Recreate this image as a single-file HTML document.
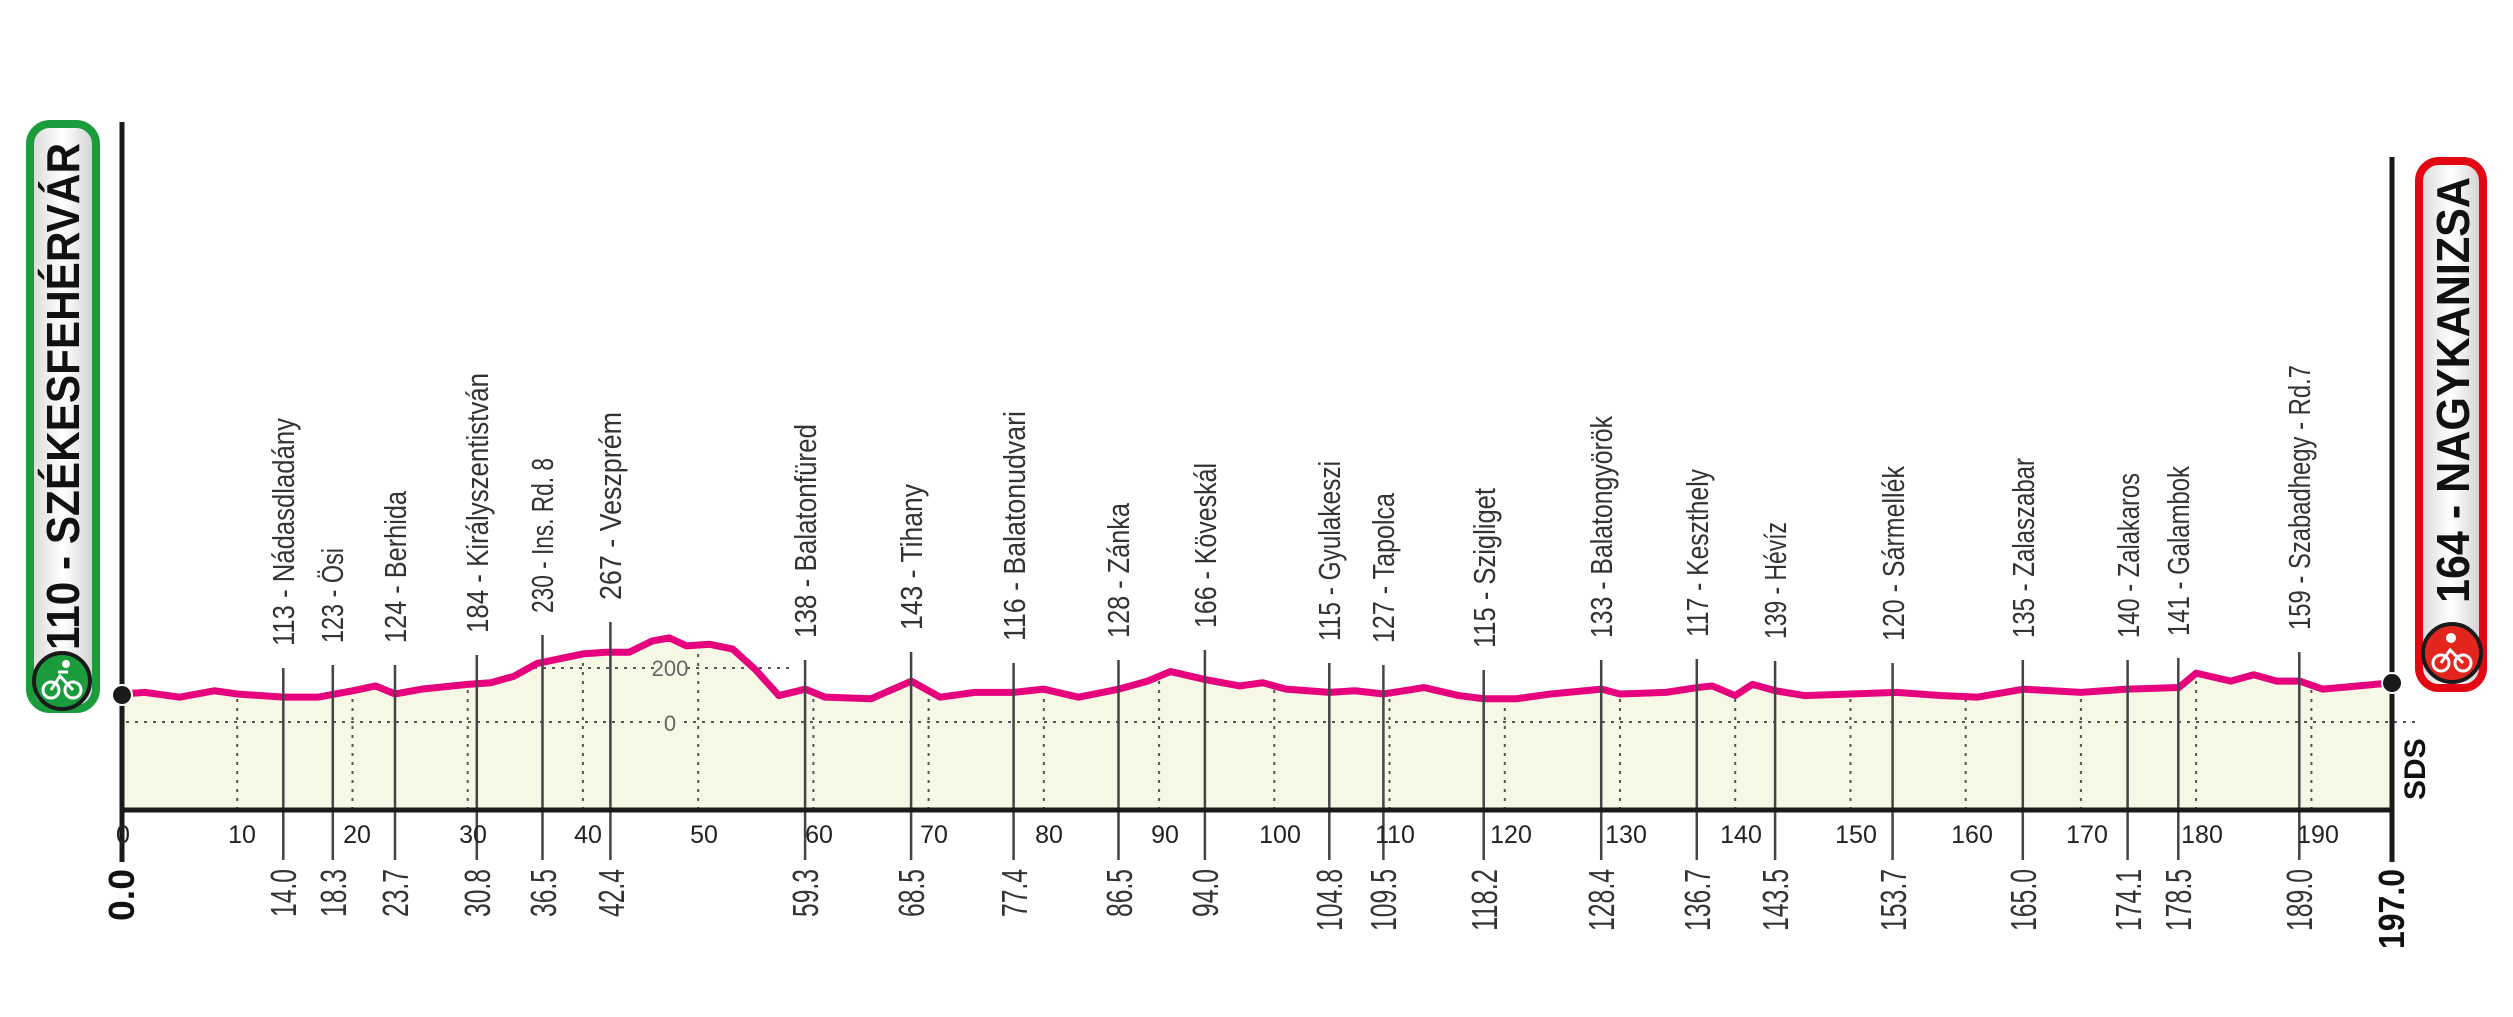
<!DOCTYPE html>
<html><head><meta charset="utf-8"><style>
html,body{margin:0;padding:0;background:#fff;}
svg{display:block;}
text{font-family:"Liberation Sans Narrow","Liberation Sans",sans-serif;}
</style></head><body>
<svg width="2513" height="1017" viewBox="0 0 2513 1017" xmlns="http://www.w3.org/2000/svg">
<defs>
<linearGradient id="gb" x1="0" x2="1" y1="0" y2="0">
<stop offset="0" stop-color="#d8d8d8"/><stop offset="0.5" stop-color="#ffffff"/><stop offset="1" stop-color="#cfcfcf"/>
</linearGradient>
</defs>

<g transform="translate(122,0) scale(11.523,1.6027)">
<polygon fill="#f6f7e4" points="0,505.4 0,433 2,432 5,435 8,431 10,433 14,435 17,435 20,431 22,428 23.7,433 26,430 30,427 32,426 34,422 36,414 38,411 40,408 42,407 44,407 46,400 47.5,398 49,403 51,402 53,405 55,418 57,434 59.3,430 61,435 65,436 68.5,425 71,435 74,432 77.4,432 80,430 83,435 86.5,430 89,425 91,419 94,424 97,428 99,426 101,430 104.8,432 107,431 109.5,433 113,429 116,434 118.2,436 121,436 124,433 128.4,430 130,433 134,432 136.7,429 138,428 140,434 141.5,427 143.5,431 146,434 150,433 154,432 158,434 161,435 165,430 170,432 174,430 178.5,429 180,420 183,425 185,421 187,425 189,425 191,430 194,428 197,426 197,505.4"/>
</g>

<g stroke="#555" stroke-width="2" stroke-dasharray="3,6" fill="none">
<line x1="126" y1="722" x2="2420" y2="722"/>
<line x1="525" y1="668" x2="790" y2="668"/>
<line x1="237.2" y1="810" x2="237.2" y2="694"/>
<line x1="352.5" y1="810" x2="352.5" y2="690"/>
<line x1="467.7" y1="810" x2="467.7" y2="684"/>
<line x1="582.9" y1="810" x2="582.9" y2="655"/>
<line x1="698.2" y1="810" x2="698.2" y2="643"/>
<line x1="813.4" y1="810" x2="813.4" y2="692"/>
<line x1="928.6" y1="810" x2="928.6" y2="693"/>
<line x1="1043.8" y1="810" x2="1043.8" y2="690"/>
<line x1="1159.1" y1="810" x2="1159.1" y2="680"/>
<line x1="1274.3" y1="810" x2="1274.3" y2="687"/>
<line x1="1389.5" y1="810" x2="1389.5" y2="692"/>
<line x1="1504.8" y1="810" x2="1504.8" y2="699"/>
<line x1="1620" y1="810" x2="1620" y2="694"/>
<line x1="1735.2" y1="810" x2="1735.2" y2="695"/>
<line x1="1850.5" y1="810" x2="1850.5" y2="693"/>
<line x1="1965.7" y1="810" x2="1965.7" y2="697"/>
<line x1="2080.9" y1="810" x2="2080.9" y2="692"/>
<line x1="2196.1" y1="810" x2="2196.1" y2="675"/>
<line x1="2311.4" y1="810" x2="2311.4" y2="683"/>
</g>
<rect x="655" y="655" width="32" height="24" fill="#f6f7e4"/>
<text x="670" y="676" font-size="22" fill="#666" text-anchor="middle">200</text>
<rect x="660" y="708" width="20" height="26" fill="#f6f7e4"/>
<text x="670" y="731" font-size="22" fill="#666" text-anchor="middle">0</text>

<g transform="translate(122,0) scale(11.523,1.6027)">
<polyline fill="none" stroke="#e6007e" stroke-width="7" vector-effect="non-scaling-stroke" stroke-linejoin="round" stroke-linecap="round" points="0,433 2,432 5,435 8,431 10,433 14,435 17,435 20,431 22,428 23.7,433 26,430 30,427 32,426 34,422 36,414 38,411 40,408 42,407 44,407 46,400 47.5,398 49,403 51,402 53,405 55,418 57,434 59.3,430 61,435 65,436 68.5,425 71,435 74,432 77.4,432 80,430 83,435 86.5,430 89,425 91,419 94,424 97,428 99,426 101,430 104.8,432 107,431 109.5,433 113,429 116,434 118.2,436 121,436 124,433 128.4,430 130,433 134,432 136.7,429 138,428 140,434 141.5,427 143.5,431 146,434 150,433 154,432 158,434 161,435 165,430 170,432 174,430 178.5,429 180,420 183,425 185,421 187,425 189,425 191,430 194,428 197,426"/>
</g>

<g stroke="#444" stroke-width="2.5">
<line x1="283.3" y1="668" x2="283.3" y2="860"/>
<line x1="332.8" y1="665" x2="332.8" y2="860"/>
<line x1="395" y1="665" x2="395" y2="860"/>
<line x1="476.8" y1="655" x2="476.8" y2="860"/>
<line x1="542.5" y1="635" x2="542.5" y2="860"/>
<line x1="610.4" y1="622" x2="610.4" y2="860"/>
<line x1="805.1" y1="660" x2="805.1" y2="860"/>
<line x1="911.1" y1="652" x2="911.1" y2="860"/>
<line x1="1013.6" y1="663" x2="1013.6" y2="860"/>
<line x1="1118.5" y1="660" x2="1118.5" y2="860"/>
<line x1="1204.9" y1="650" x2="1204.9" y2="860"/>
<line x1="1329.3" y1="663" x2="1329.3" y2="860"/>
<line x1="1383.4" y1="665" x2="1383.4" y2="860"/>
<line x1="1483.7" y1="670" x2="1483.7" y2="860"/>
<line x1="1601.2" y1="660" x2="1601.2" y2="860"/>
<line x1="1696.8" y1="659" x2="1696.8" y2="860"/>
<line x1="1775.1" y1="661" x2="1775.1" y2="860"/>
<line x1="1892.6" y1="663" x2="1892.6" y2="860"/>
<line x1="2022.8" y1="660" x2="2022.8" y2="860"/>
<line x1="2127.6" y1="660" x2="2127.6" y2="860"/>
<line x1="2178.3" y1="658" x2="2178.3" y2="860"/>
<line x1="2299.3" y1="652" x2="2299.3" y2="860"/>
</g>

<g font-size="31" fill="#333">
<text transform="translate(294,646) rotate(-90)" textLength="228" lengthAdjust="spacingAndGlyphs">113 - Nádasdladány</text>
<text transform="translate(343,643) rotate(-90)" textLength="95" lengthAdjust="spacingAndGlyphs">123 - Ösi</text>
<text transform="translate(406,643) rotate(-90)" textLength="152" lengthAdjust="spacingAndGlyphs">124 - Berhida</text>
<text transform="translate(488,633) rotate(-90)" textLength="260" lengthAdjust="spacingAndGlyphs">184 - Királyszentistván</text>
<text transform="translate(553,613) rotate(-90)" textLength="155" lengthAdjust="spacingAndGlyphs">230 - Ins. Rd. 8</text>
<text transform="translate(621,600) rotate(-90)" textLength="188" lengthAdjust="spacingAndGlyphs">267 - Veszprém</text>
<text transform="translate(816,638) rotate(-90)" textLength="214" lengthAdjust="spacingAndGlyphs">138 - Balatonfüred</text>
<text transform="translate(922,630) rotate(-90)" textLength="146" lengthAdjust="spacingAndGlyphs">143 - Tihany</text>
<text transform="translate(1025,641) rotate(-90)" textLength="230" lengthAdjust="spacingAndGlyphs">116 - Balatonudvari</text>
<text transform="translate(1129,638) rotate(-90)" textLength="135" lengthAdjust="spacingAndGlyphs">128 - Zánka</text>
<text transform="translate(1216,628) rotate(-90)" textLength="165" lengthAdjust="spacingAndGlyphs">166 - Köveskál</text>
<text transform="translate(1340,641) rotate(-90)" textLength="180" lengthAdjust="spacingAndGlyphs">115 - Gyulakeszi</text>
<text transform="translate(1394,643) rotate(-90)" textLength="150" lengthAdjust="spacingAndGlyphs">127 - Tapolca</text>
<text transform="translate(1495,648) rotate(-90)" textLength="160" lengthAdjust="spacingAndGlyphs">115 - Szigliget</text>
<text transform="translate(1612,638) rotate(-90)" textLength="222" lengthAdjust="spacingAndGlyphs">133 - Balatongyörök</text>
<text transform="translate(1708,637) rotate(-90)" textLength="168" lengthAdjust="spacingAndGlyphs">117 - Keszthely</text>
<text transform="translate(1786,639) rotate(-90)" textLength="117" lengthAdjust="spacingAndGlyphs">139 - Hévíz</text>
<text transform="translate(1904,641) rotate(-90)" textLength="175" lengthAdjust="spacingAndGlyphs">120 - Sármellék</text>
<text transform="translate(2034,638) rotate(-90)" textLength="180" lengthAdjust="spacingAndGlyphs">135 - Zalaszabar</text>
<text transform="translate(2139,638) rotate(-90)" textLength="165" lengthAdjust="spacingAndGlyphs">140 - Zalakaros</text>
<text transform="translate(2189,636) rotate(-90)" textLength="170" lengthAdjust="spacingAndGlyphs">141 - Galambok</text>
<text transform="translate(2310,630) rotate(-90)" textLength="265" lengthAdjust="spacingAndGlyphs">159 - Szabadhegy - Rd.7</text>
</g>

<g font-size="36" fill="#333" text-anchor="end">
<text transform="translate(296,869) rotate(-90)" textLength="48" lengthAdjust="spacingAndGlyphs">14.0</text>
<text transform="translate(346,869) rotate(-90)" textLength="48" lengthAdjust="spacingAndGlyphs">18.3</text>
<text transform="translate(408,869) rotate(-90)" textLength="48" lengthAdjust="spacingAndGlyphs">23.7</text>
<text transform="translate(490,869) rotate(-90)" textLength="48" lengthAdjust="spacingAndGlyphs">30.8</text>
<text transform="translate(556,869) rotate(-90)" textLength="48" lengthAdjust="spacingAndGlyphs">36.5</text>
<text transform="translate(624,869) rotate(-90)" textLength="48" lengthAdjust="spacingAndGlyphs">42.4</text>
<text transform="translate(818,869) rotate(-90)" textLength="48" lengthAdjust="spacingAndGlyphs">59.3</text>
<text transform="translate(924,869) rotate(-90)" textLength="48" lengthAdjust="spacingAndGlyphs">68.5</text>
<text transform="translate(1027,869) rotate(-90)" textLength="48" lengthAdjust="spacingAndGlyphs">77.4</text>
<text transform="translate(1132,869) rotate(-90)" textLength="48" lengthAdjust="spacingAndGlyphs">86.5</text>
<text transform="translate(1218,869) rotate(-90)" textLength="48" lengthAdjust="spacingAndGlyphs">94.0</text>
<text transform="translate(1342,869) rotate(-90)" textLength="62" lengthAdjust="spacingAndGlyphs">104.8</text>
<text transform="translate(1396,869) rotate(-90)" textLength="62" lengthAdjust="spacingAndGlyphs">109.5</text>
<text transform="translate(1497,869) rotate(-90)" textLength="62" lengthAdjust="spacingAndGlyphs">118.2</text>
<text transform="translate(1614,869) rotate(-90)" textLength="62" lengthAdjust="spacingAndGlyphs">128.4</text>
<text transform="translate(1710,869) rotate(-90)" textLength="62" lengthAdjust="spacingAndGlyphs">136.7</text>
<text transform="translate(1788,869) rotate(-90)" textLength="62" lengthAdjust="spacingAndGlyphs">143.5</text>
<text transform="translate(1906,869) rotate(-90)" textLength="62" lengthAdjust="spacingAndGlyphs">153.7</text>
<text transform="translate(2036,869) rotate(-90)" textLength="62" lengthAdjust="spacingAndGlyphs">165.0</text>
<text transform="translate(2141,869) rotate(-90)" textLength="62" lengthAdjust="spacingAndGlyphs">174.1</text>
<text transform="translate(2191,869) rotate(-90)" textLength="62" lengthAdjust="spacingAndGlyphs">178.5</text>
<text transform="translate(2312,869) rotate(-90)" textLength="62" lengthAdjust="spacingAndGlyphs">189.0</text>
<text transform="translate(134,869) rotate(-90)" font-weight="bold" fill="#111" textLength="52" lengthAdjust="spacingAndGlyphs">0.0</text>
<text transform="translate(2404,869) rotate(-90)" font-weight="bold" fill="#111" textLength="80" lengthAdjust="spacingAndGlyphs">197.0</text>
</g>

<g stroke="#1a1a1a" stroke-width="5" fill="none">
<line x1="122" y1="122" x2="122" y2="862"/>
<line x1="2392" y1="157" x2="2392" y2="862"/>
<line x1="120" y1="810" x2="2394" y2="810"/>
</g>
<circle cx="122" cy="695" r="10" fill="#1a1a1a" stroke="#fff" stroke-width="2"/>
<circle cx="2392" cy="683" r="10" fill="#1a1a1a" stroke="#fff" stroke-width="2"/>

<g font-size="25" fill="#222" text-anchor="middle">
<text x="123" y="843">0</text>
<text x="242" y="843">10</text>
<text x="357" y="843">20</text>
<text x="473" y="843">30</text>
<text x="588" y="843">40</text>
<text x="704" y="843">50</text>
<text x="819" y="843">60</text>
<text x="934" y="843">70</text>
<text x="1049" y="843">80</text>
<text x="1165" y="843">90</text>
<text x="1280" y="843">100</text>
<text x="1395" y="843">110</text>
<text x="1511" y="843">120</text>
<text x="1626" y="843">130</text>
<text x="1741" y="843">140</text>
<text x="1856" y="843">150</text>
<text x="1972" y="843">160</text>
<text x="2087" y="843">170</text>
<text x="2202" y="843">180</text>
<text x="2318" y="843">190</text>
</g>

<text transform="translate(2425,800) rotate(-90)" font-size="30" font-weight="bold" fill="#111" font-family="Liberation Sans, sans-serif">SDS</text>

<rect x="30" y="124" width="66" height="585" rx="20" fill="url(#gb)" stroke="#1a9b3c" stroke-width="8"/>
<text transform="translate(79,650) rotate(-90)" font-size="46" font-weight="bold" fill="#111" textLength="507" lengthAdjust="spacingAndGlyphs">110 - SZÉKESFEHÉRVÁR</text>
<circle cx="62" cy="681" r="28" fill="#1a9b3c" stroke="#1a1a1a" stroke-width="4"/>
<circle cx="51" cy="690" r="8" fill="none" stroke="#fff" stroke-width="3"/>
<circle cx="73" cy="690" r="8" fill="none" stroke="#fff" stroke-width="3"/>
<path d="M51 690 L60 676 L73 690 M58 672 l10 0" stroke="#fff" stroke-width="3" fill="none"/>
<circle cx="66" cy="664" r="4" fill="#fff"/>

<rect x="2419" y="161" width="64" height="527" rx="20" fill="url(#gb)" stroke="#e30613" stroke-width="8"/>
<text transform="translate(2469,603) rotate(-90)" font-size="46" font-weight="bold" fill="#111" textLength="426" lengthAdjust="spacingAndGlyphs">164 - NAGYKANIZSA</text>
<circle cx="2452" cy="653" r="29" fill="#e3261d" stroke="#1a1a1a" stroke-width="4"/>
<circle cx="2441" cy="663" r="8" fill="none" stroke="#fff" stroke-width="3"/>
<circle cx="2463" cy="663" r="8" fill="none" stroke="#fff" stroke-width="3"/>
<path d="M2441 663 L2450 650 L2463 663" stroke="#fff" stroke-width="3" fill="none"/>
<circle cx="2451" cy="638" r="5" fill="#fff"/>
</svg>
</body></html>
